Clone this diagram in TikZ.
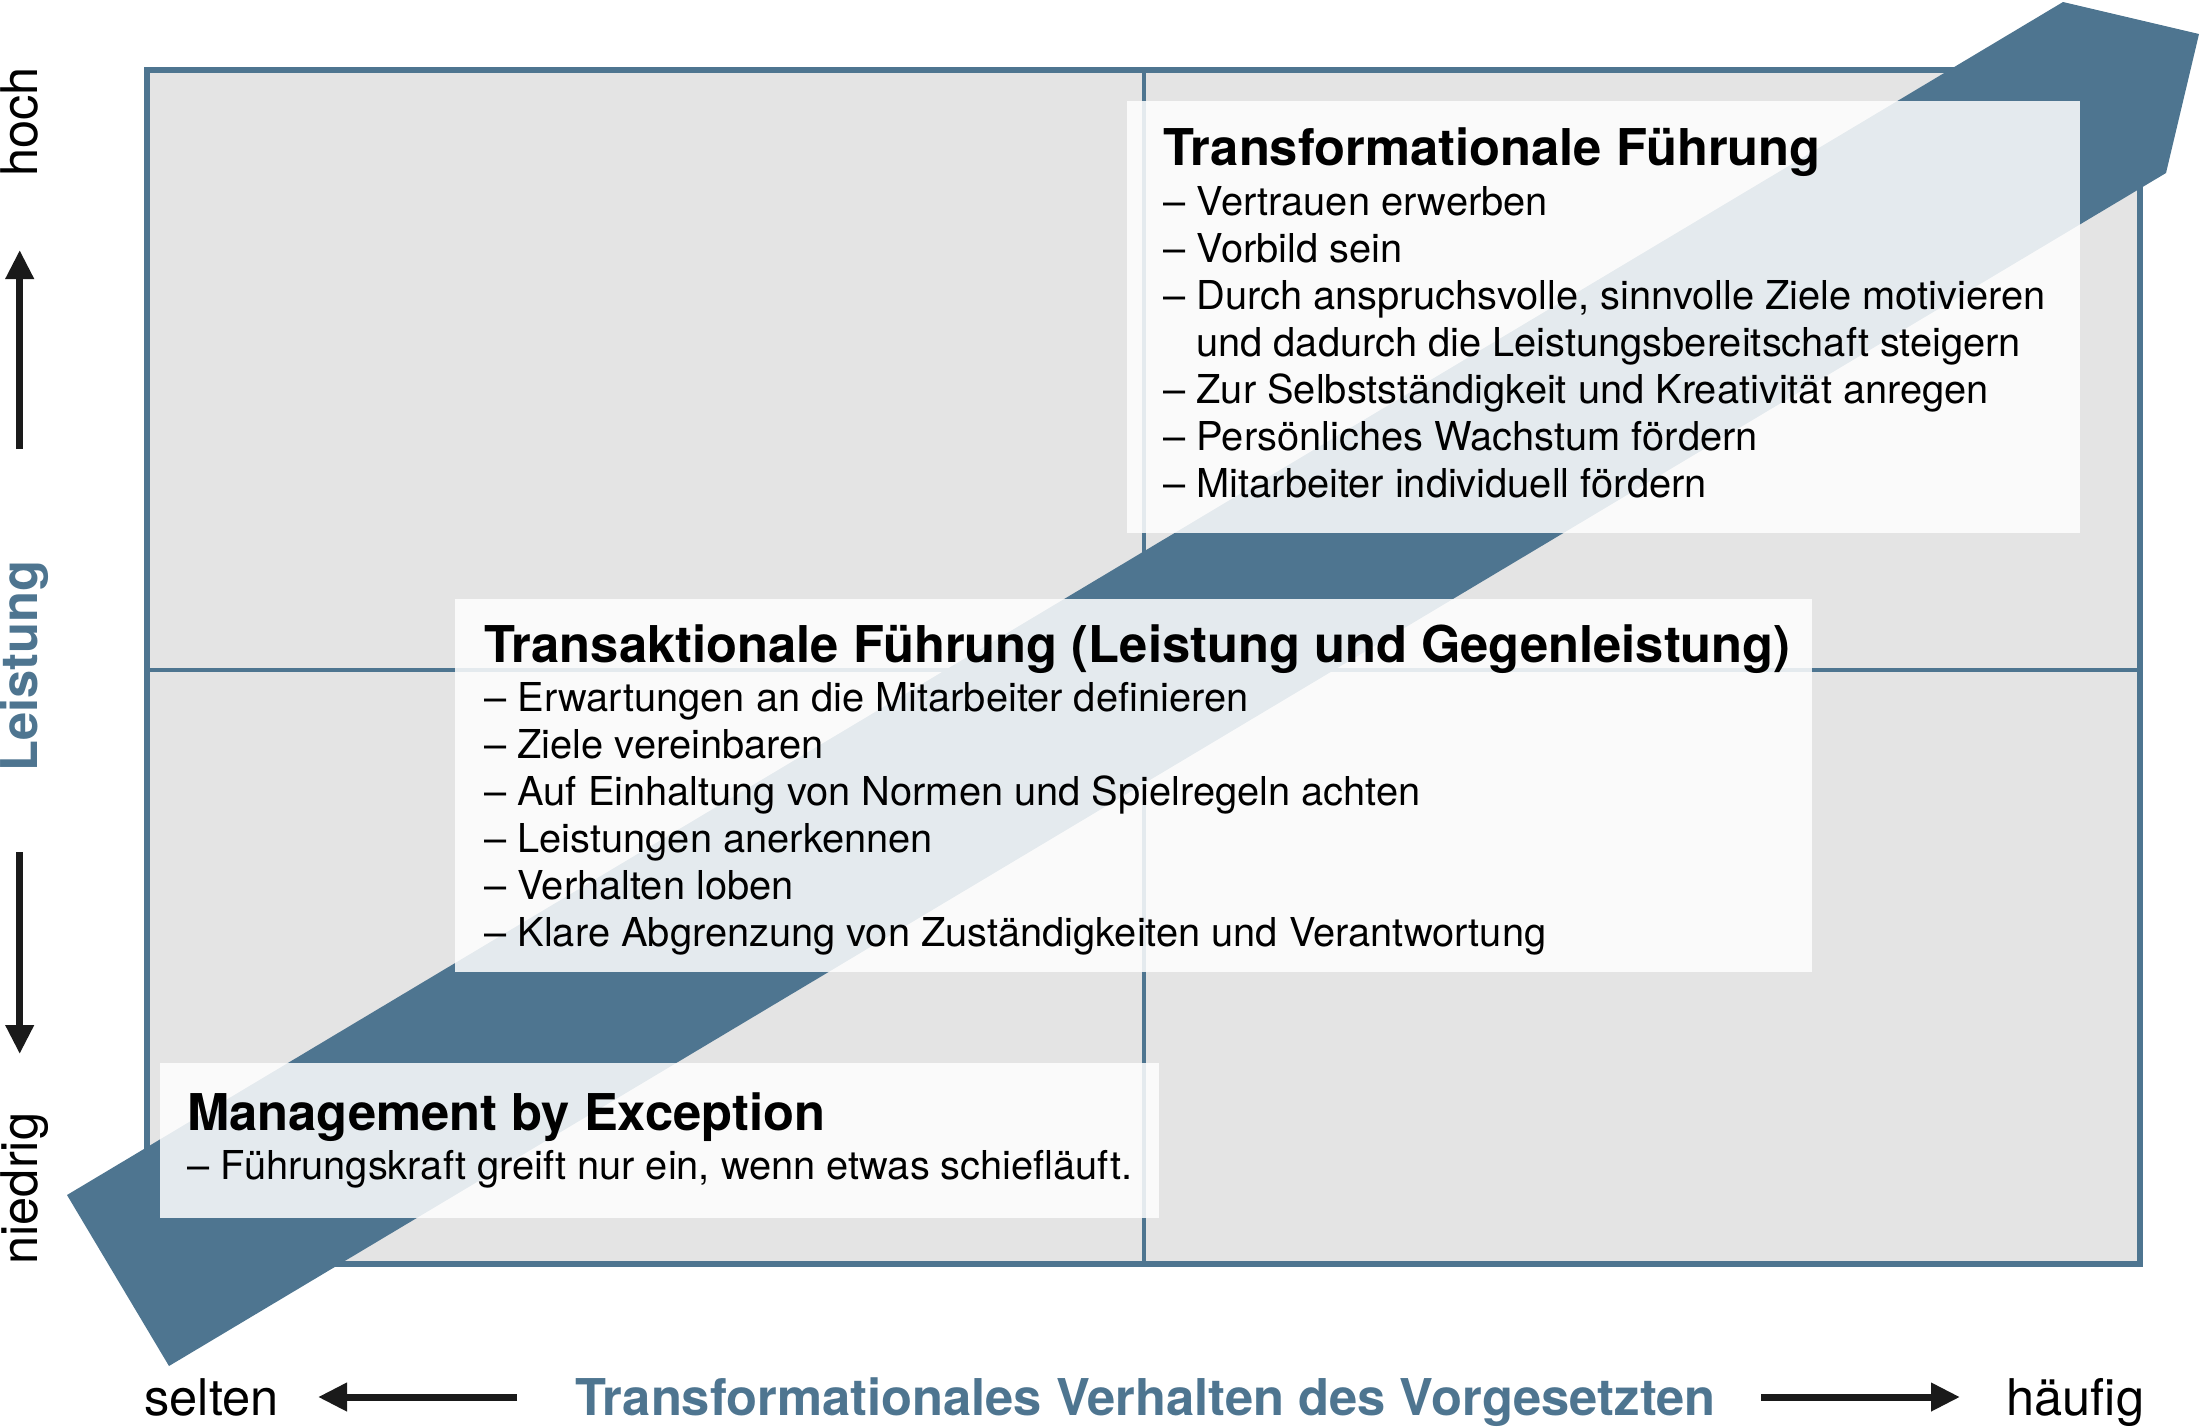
\documentclass[tikz,border=0pt]{standalone}
\usepackage{fontspec}
\setmainfont{TeX Gyre Heros}
\usetikzlibrary{arrows.meta}
\definecolor{bandblue}{HTML}{4E7590}
\definecolor{cellgray}{HTML}{E4E4E4}
\definecolor{arrowblack}{HTML}{1A1A1A}
\tikzset{
  bodytext/.style={inner sep=0pt, anchor=base west, font=\fontsize{19.9pt}{23.5pt}\selectfont},
  titletext/.style={inner sep=0pt, anchor=base west, font=\fontsize{25.35pt}{30pt}\selectfont\bfseries},
  axistext/.style={inner sep=0pt, anchor=base west, font=\fontsize{25.3pt}{30pt}\selectfont},
  axistitle/.style={inner sep=0pt, font=\fontsize{25.35pt}{30pt}\selectfont\bfseries, text=bandblue},
  infobox/.style={fill=white, fill opacity=0.85, draw=none},
  axisarrow/.style={draw=arrowblack, line width=3.5pt, -{Triangle[length=14.5pt,width=13.5pt]}},
  framestyle/.style={draw=bandblue, line width=3pt, fill=cellgray},
  dividerstyle/.style={draw=bandblue, line width=2pt},
}
\begin{document}
\begin{tikzpicture}[x=0.5pt,y=-0.5pt]
\useasboundingbox (0,0) rectangle (2201,1426);

% matrix frame
\path[framestyle] (147,70) rectangle (2140,1264);
\draw[dividerstyle] (1144,70) -- (1144,1264);
\draw[dividerstyle] (147,670) -- (2140,670);
\draw[bandblue, line width=3pt] (147,70) rectangle (2140,1264);

% diagonal band
\fill[bandblue] (2063,2) -- (2199,34) -- (2166,173) -- (169,1366) -- (67,1195) -- cycle;

% info boxes
\path[infobox] (1127,101) rectangle (2080,533);
\path[infobox] (455,599) rectangle (1812,972);
\path[infobox] (160,1063) rectangle (1159,1218);

% box 1
\node[titletext] (t1) at (1163,165) {Transformationale Führung};
\node[bodytext] (t1a) at (1163,215) {– Vertrauen erwerben};
\node[bodytext] (t1b) at (1163,262) {– Vorbild sein};
\node[bodytext] (t1c) at (1163,309) {– Durch anspruchsvolle, sinnvolle Ziele motivieren};
\node[bodytext] (t1d) at (1196,356) {und dadurch die Leistungsbereitschaft steigern};
\node[bodytext] (t1e) at (1163,403) {– Zur Selbstständigkeit und Kreativität anregen};
\node[bodytext] (t1f) at (1163,450) {– Persönliches Wachstum fördern};
\node[bodytext] (t1g) at (1163,497) {– Mitarbeiter individuell fördern};

% box 2
\node[titletext] (t2) at (484,662) {Transaktionale Führung (Leistung und Gegenleistung)};
\node[bodytext] (t2a) at (484,711) {– Erwartungen an die Mitarbeiter definieren};
\node[bodytext] (t2b) at (484,758) {– Ziele vereinbaren};
\node[bodytext] (t2c) at (484,805) {– Auf Einhaltung von Normen und Spielregeln achten};
\node[bodytext] (t2d) at (484,852) {– Leistungen anerkennen};
\node[bodytext] (t2e) at (484,899) {– Verhalten loben};
\node[bodytext] (t2f) at (484,946) {– Klare Abgrenzung von Zuständigkeiten und Verantwortung};

% box 3
\node[titletext] (t3) at (187,1130) {Management by Exception};
\node[bodytext] (t3a) at (187,1179) {– Führungskraft greift nur ein, wenn etwas schiefläuft.};

% vertical axis
\node[axistext, rotate=90] (hoch) at (38,177) {hoch};
\node[axistext, rotate=90] (niedrig) at (38,1265) {niedrig};
\node[axistitle, rotate=90, anchor=base] (leistung) at (38,666) {Leistung};
\coordinate (upS) at (19.7,449);
\coordinate (upE) at (19.7,250);
\coordinate (dnS) at (19.7,852);
\coordinate (dnE) at (19.7,1054);
\draw[axisarrow] (upS) -- (upE);
\draw[axisarrow] (dnS) -- (dnE);

% horizontal axis
\node[axistext] (selten) at (144,1415) {selten};
\node[axistext] (haeufig) at (2006,1415) {häufig};
\node[axistitle, anchor=base west] (verhalten) at (575,1415) {Transformationales Verhalten des Vorgesetzten};
\coordinate (lfS) at (517,1397);
\coordinate (lfE) at (318,1397);
\coordinate (rtS) at (1761,1397);
\coordinate (rtE) at (1960,1397);
\draw[axisarrow] (lfS) -- (lfE);
\draw[axisarrow] (rtS) -- (rtE);
\end{tikzpicture}
\end{document}
